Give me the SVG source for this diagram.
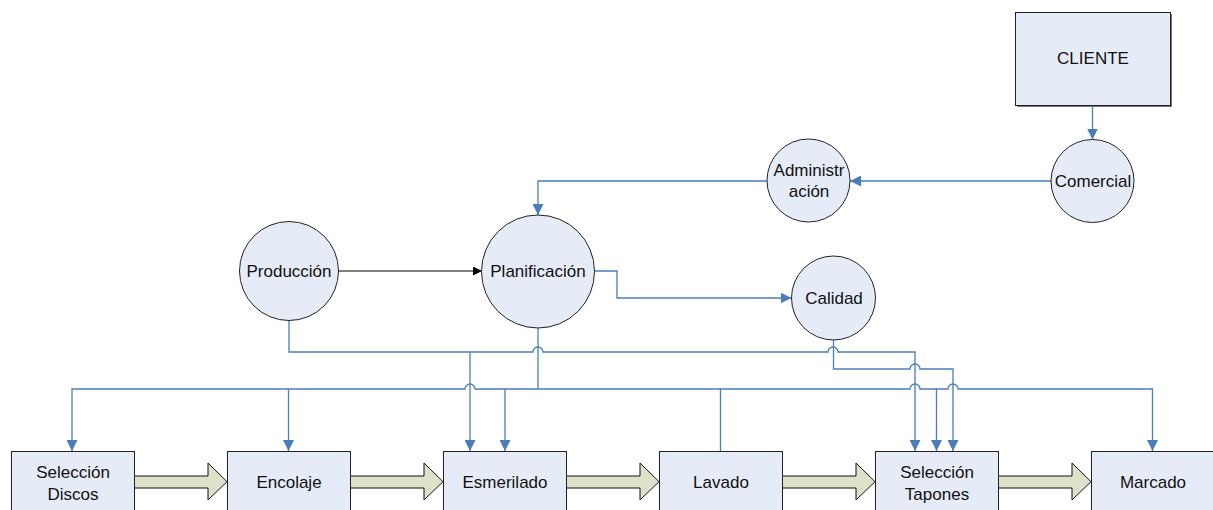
<svg xmlns="http://www.w3.org/2000/svg" xmlns:xlink="http://www.w3.org/1999/xlink" width="1213" height="510" viewBox="0 0 1213 510">
<style>
.node{fill:#e6ecf7;stroke:#222;stroke-width:1}
.lbl{font-family:"Liberation Sans",Arial,sans-serif;font-size:17px;fill:#111;text-anchor:middle}
.cn{fill:none;stroke:#4a7ebb;stroke-width:1.3}
.blk{fill:#dde1c9;stroke:#111;stroke-width:1}
</style>
<defs>
<marker id="ab" viewBox="0 0 10 10" refX="10" refY="5" markerWidth="11" markerHeight="11" markerUnits="userSpaceOnUse" orient="auto">
<path d="M0,0 L10,5 L0,10 z" fill="#4a7ebb"/>
</marker>
<marker id="abk" viewBox="0 0 10 10" refX="10" refY="5" markerWidth="9" markerHeight="9" markerUnits="userSpaceOnUse" orient="auto">
<path d="M0,0 L10,5 L0,10 z" fill="#000"/>
</marker>
<polygon id="ba" class="blk" points="134,476 208,476 208,463 227,481.7 208,500 208,488 134,488"/>
</defs>

<g id="connectors">
<path class="cn" d="M1092.5,105 V139.5" marker-end="url(#ab)"/>
<path class="cn" d="M1051,181 H850" marker-end="url(#ab)"/>
<path class="cn" d="M767,181 H538 V215" marker-end="url(#ab)"/>
<path d="M338.5,271 H482" fill="none" stroke="#000" stroke-width="1" marker-end="url(#abk)"/>
<path class="cn" d="M594.5,271 H617 V298 H791.5" marker-end="url(#ab)"/>
<path class="cn" d="M538,328 V389" stroke-width="2"/>
<path class="cn" d="M289,320 V352 H533 A5,5 0 0 1 543,352 H828 A5,5 0 0 1 838,352 H915 V451" marker-end="url(#ab)"/>
<path class="cn" d="M470,352 V451" marker-end="url(#ab)"/>
<path class="cn" d="M538,389 H475 A5,5 0 0 0 465,389 H72 V451" marker-end="url(#ab)"/>
<path class="cn" d="M288.5,389 V451" marker-end="url(#ab)"/>
<path class="cn" d="M505,389 V451" marker-end="url(#ab)"/>
<path class="cn" d="M538,389 H720.5 V451"/>
<path class="cn" d="M720,389 H910 A5,5 0 0 1 920,389 H936.5 V451" marker-end="url(#ab)"/>
<path class="cn" d="M936,389 H948 A5,5 0 0 1 958,389 H1152.5 V451" marker-end="url(#ab)"/>
<path class="cn" d="M833.5,340 V369 H910 A5,5 0 0 1 920,369 H953 V451" marker-end="url(#ab)"/>
</g>

<g id="flow-arrows">
<use xlink:href="#ba"/>
<use xlink:href="#ba" x="216"/>
<use xlink:href="#ba" x="432"/>
<use xlink:href="#ba" x="648"/>
<use xlink:href="#ba" x="864"/>
</g>

<g id="cliente">
<rect x="1017" y="14" width="155" height="93" fill="#777"/>
<rect class="node" x="1015.5" y="12.5" width="155" height="93"/>
<text class="lbl" x="1093" y="64">CLIENTE</text>
</g>
<g id="comercial">
<circle class="node" cx="1092.5" cy="181" r="41.5"/>
<text class="lbl" x="1093" y="187">Comercial</text>
</g>
<g id="administracion">
<circle class="node" cx="808.5" cy="180.5" r="41.5"/>
<text class="lbl" x="809" y="176">Administr</text>
<text class="lbl" x="809" y="197">ación</text>
</g>
<g id="produccion">
<circle class="node" cx="289" cy="271" r="49.5"/>
<text class="lbl" x="289" y="277">Producción</text>
</g>
<g id="planificacion">
<circle class="node" cx="538" cy="271.5" r="56.5"/>
<text class="lbl" x="538" y="277">Planificación</text>
</g>
<g id="calidad">
<circle class="node" cx="833.5" cy="298" r="42"/>
<text class="lbl" x="834" y="304">Calidad</text>
</g>

<g id="seleccion-discos">
<rect class="node" x="11.5" y="451.5" width="123" height="62"/>
<text class="lbl" x="73" y="478">Selección</text>
<text class="lbl" x="73" y="499.5">Discos</text>
</g>
<g id="encolaje">
<rect class="node" x="227.5" y="451.5" width="123" height="62"/>
<text class="lbl" x="289" y="488">Encolaje</text>
</g>
<g id="esmerilado">
<rect class="node" x="443.5" y="451.5" width="123" height="62"/>
<text class="lbl" x="505" y="488">Esmerilado</text>
</g>
<g id="lavado">
<rect class="node" x="659.5" y="451.5" width="123" height="62"/>
<text class="lbl" x="721" y="488">Lavado</text>
</g>
<g id="seleccion-tapones">
<rect class="node" x="875.5" y="451.5" width="123" height="62"/>
<text class="lbl" x="937" y="478">Selección</text>
<text class="lbl" x="937" y="499.5">Tapones</text>
</g>
<g id="marcado">
<rect class="node" x="1091.5" y="451.5" width="123" height="62"/>
<text class="lbl" x="1153" y="488">Marcado</text>
</g>
</svg>
